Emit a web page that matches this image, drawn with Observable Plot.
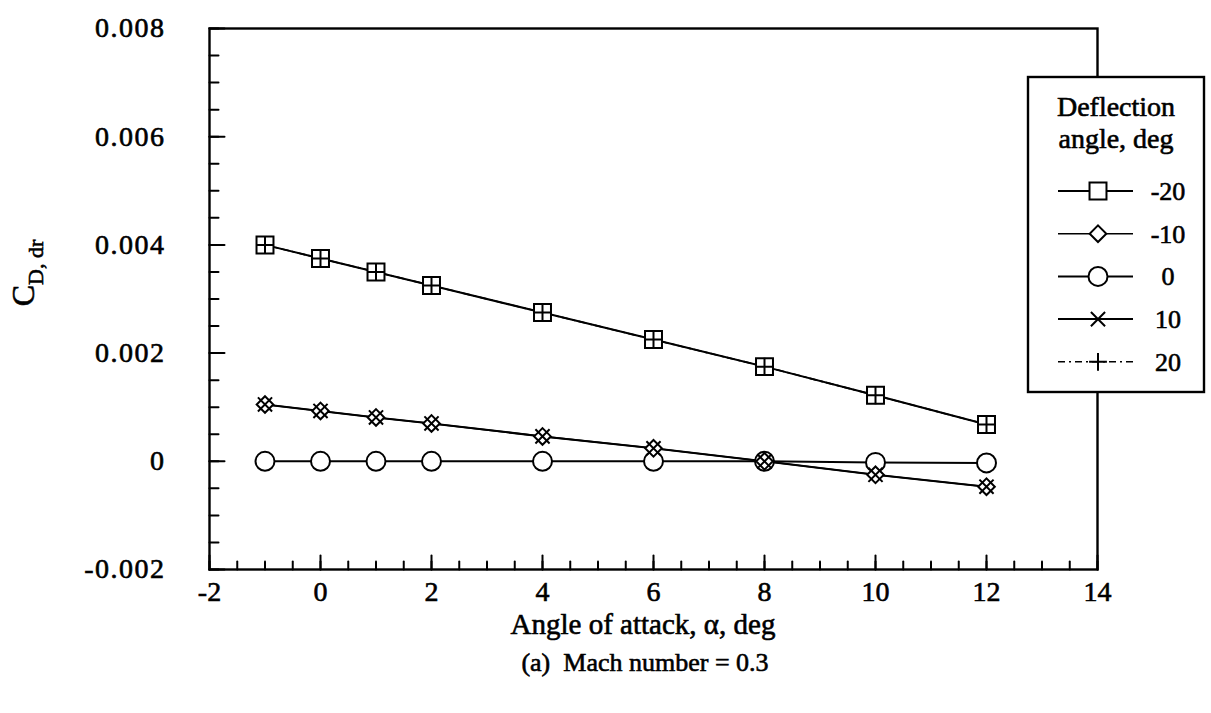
<!DOCTYPE html>
<html><head><meta charset="utf-8">
<script src="https://cdn.jsdelivr.net/npm/d3@7"></script>
<script src="https://cdn.jsdelivr.net/npm/@observablehq/plot@0.6"></script>
<style>
body{margin:0;background:#fff;}
#wrap{position:relative;width:1211px;height:713px;font-family:"Liberation Serif","Times New Roman",serif;color:#000;}
#wrap svg text{stroke:#000;stroke-width:0.6px;}
#caption{position:absolute;left:0;top:648px;width:1290px;text-align:center;font-size:26px;line-height:30px;white-space:pre;-webkit-text-stroke:0.6px #000;}
</style></head><body><div id="wrap"></div>
<script>
// ---- data ----
const alpha = [-1, 0, 1, 2, 4, 6, 8, 10, 12];
const deflections = [-20, -10, 0, 10, 20];
const cdNeg20 = [0.00400, 0.00375, 0.00350, 0.00325, 0.00275, 0.00225, 0.00175, 0.00122, 0.00068];
const cdNeg10 = [0.00105, 0.00093, 0.00081, 0.00070, 0.00046, 0.00024, 0.00000, -0.00025, -0.00047];
const cd0     = [0, 0, 0, 0, 0, 0, 0, -0.00002, -0.00003];
const cd10    = [0.00105, 0.00093, 0.00081, 0.00070, 0.00046, 0.00024, 0.00000, -0.00025, -0.00047];
const cd20    = [0.00400, 0.00375, 0.00350, 0.00325, 0.00275, 0.00225, 0.00175, 0.00122, 0.00068];
const xTicks = [-2, 0, 2, 4, 6, 8, 10, 12, 14];
const xTickLabels = ["-2", "0", "2", "4", "6", "8", "10", "12", "14"];
const yTicks = [-0.002, 0, 0.002, 0.004, 0.006, 0.008];
const yTickLabels = ["-0.002", "0", "0.002", "0.004", "0.006", "0.008"];
const xMinor = d3.range(-2, 14.01, 0.5);
const yMinor = d3.range(-0.002, 0.00801, 0.0005);
const xLabel = "Angle of attack, \u03b1, deg";
const yLabelMain = "C", yLabelSub = "D, dr";
const legendTitle = ["Deflection", "angle, deg"];
const caption = "(a)  Mach number = 0.3";

const seriesValues = [cdNeg20, cdNeg10, cd0, cd10, cd20];
const rows = [];
deflections.forEach((d, k) => alpha.forEach((a, i) => rows.push({alpha: a, cd: seriesValues[k][i], defl: d})));

const style = {
  "-20": {symbol: "square2", r: 10.8, dash: null, fill: "white", lw: 2},
  "-10": {symbol: "diamond2", r: 7.5, dash: null, fill: "white", lw: 1.6},
  "0":   {symbol: "circle", r: 9.5, dash: null, fill: "white", lw: 2},
  "10":  {symbol: "times", r: 6.5, dash: null, fill: "none", lw: 2},
  "20":  {symbol: "plus", r: 5.8, dash: "7,4,2,4", fill: "none", lw: 1.6}
};
const drawOrder = [-20, 0, -10, 10, 20];
const tickShape = {draw(ctx, l) { ctx.moveTo(0, 0); ctx.lineTo(0, -l); }};

const marks = [
  Plot.frame({stroke: "black", strokeWidth: 2.4}),
  Plot.vector(xMinor, {x: d => d, frameAnchor: "bottom", length: 8, rotate: 0, anchor: "start", shape: tickShape, stroke: "black", strokeWidth: 2}),
  Plot.vector(xTicks, {x: d => d, frameAnchor: "bottom", length: 14, rotate: 0, anchor: "start", shape: tickShape, stroke: "black", strokeWidth: 2}),
  Plot.vector(yMinor, {y: d => d, frameAnchor: "left", length: 9, rotate: 90, anchor: "start", shape: tickShape, stroke: "black", strokeWidth: 2}),
  Plot.vector(yTicks, {y: d => d, frameAnchor: "left", length: 15, rotate: 90, anchor: "start", shape: tickShape, stroke: "black", strokeWidth: 2}),
  Plot.axisX(xTicks, {tickSize: 0, tickPadding: 12, fontSize: 28, label: null, tickFormat: d => xTickLabels[xTicks.indexOf(d)]}),
  Plot.axisY(yTicks, {anchor: "left", tickSize: 0, tickPadding: 44, fontSize: 28, label: null, tickFormat: d => yTickLabels[yTicks.indexOf(d)]})
];
for (const d of deflections) {
  const s = style[d];
  marks.push(Plot.line(rows.filter(r => r.defl === d), {x: "alpha", y: "cd", stroke: "black", strokeWidth: s.lw, strokeDasharray: s.dash}));
}
for (const d of drawOrder) {
  const s = style[d];
  marks.push(Plot.dot(rows.filter(r => r.defl === d), {x: "alpha", y: "cd", symbol: () => s.symbol, r: s.r, stroke: "black", strokeWidth: 2, fill: s.fill}));
}

const plot = Plot.plot({
  width: 1211, height: 640,
  marginLeft: 209, marginRight: 114, marginTop: 28, marginBottom: 71,
  x: {domain: [-2, 14]},
  y: {domain: [-0.002, 0.008]},
  symbol: {type: "identity"},
  style: {fontFamily: "'Liberation Serif', 'Times New Roman', serif", background: "white", color: "black", overflow: "visible"},
  marks
});
document.getElementById("wrap").appendChild(plot);

const svg = d3.select(plot);
svg.selectAll('g[aria-label="y-axis tick label"] text').attr("letter-spacing", "1.5px");

// y axis title with subscript
const yl = svg.append("text").attr("transform", "translate(34,273) rotate(-90)")
  .attr("text-anchor", "middle").attr("font-size", 32).attr("fill", "black");
yl.append("tspan").text(yLabelMain);
yl.append("tspan").attr("dy", 9).attr("font-size", 22).text(yLabelSub);

// x axis title
svg.append("text").attr("x", 643).attr("y", 634).attr("text-anchor", "middle")
  .attr("font-size", 29).attr("fill", "black").text(xLabel);

// legend
const lg = svg.append("g");
lg.append("rect").attr("x", 1028).attr("y", 77).attr("width", 176).attr("height", 315)
  .attr("fill", "white").attr("stroke", "black").attr("stroke-width", 2.4);
lg.append("text").attr("x", 1116).attr("y", 116).attr("text-anchor", "middle").attr("font-size", 28).text(legendTitle[0]);
lg.append("text").attr("x", 1116).attr("y", 148).attr("text-anchor", "middle").attr("font-size", 28).text(legendTitle[1]);
const symTypes = {square2: d3.symbolSquare2, diamond2: d3.symbolDiamond2, circle: d3.symbolCircle, times: d3.symbolTimes, plus: d3.symbolPlus};
deflections.forEach((d, i) => {
  const s = style[d];
  const y = 191 + i * 42.7;
  lg.append("line").attr("x1", 1058).attr("x2", 1133).attr("y1", y).attr("y2", y)
    .attr("stroke", "black").attr("stroke-width", s.lw).attr("stroke-dasharray", s.dash);
  lg.append("path").attr("transform", `translate(1098,${y})`)
    .attr("d", d3.symbol(symTypes[s.symbol], Math.PI * s.r * s.r)())
    .attr("fill", s.fill).attr("stroke", "black").attr("stroke-width", 2);
  lg.append("text").attr("x", 1168).attr("y", y + 9).attr("text-anchor", "middle").attr("font-size", 26).text(String(d));
});

const cap = document.createElement("div");
cap.id = "caption";
cap.textContent = caption;
document.getElementById("wrap").appendChild(cap);
</script></body></html>
